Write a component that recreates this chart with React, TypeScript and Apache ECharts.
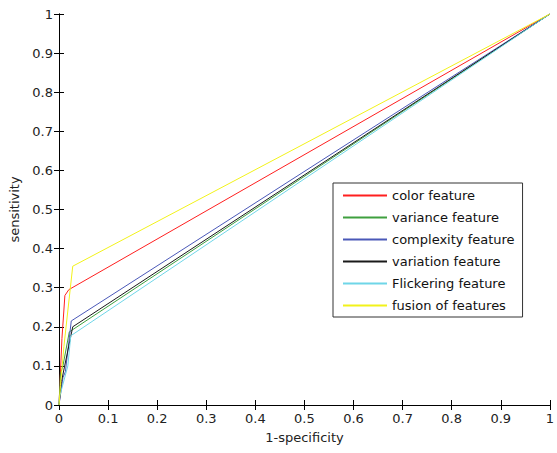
import React, { useEffect, useRef } from "react";
import * as echarts from "echarts";

const seriesNames = [
  "color feature",
  "variance feature",
  "complexity feature",
  "variation feature",
  "Flickering feature",
  "fusion of features",
];
const seriesColors = ["#ff1f1f", "#3fa03f", "#4a58b8", "#1a1a1a", "#6fd6e8", "#f2f21a"];

const colorFeature: number[][] = [[0, 0], [0.006, 0.17], [0.012, 0.28], [0.02, 0.295], [1, 1]];
const varianceFeature: number[][] = [[0, 0], [0.003, 0.08], [0.008, 0.1], [0.021, 0.187], [1, 1]];
const complexityFeature: number[][] = [[0, 0], [0.008, 0.07], [0.013, 0.085], [0.025, 0.215], [1, 1]];
const variationFeature: number[][] = [[0, 0], [0.005, 0.06], [0.028, 0.2], [1, 1]];
const flickeringFeature: number[][] = [[0, 0], [0.001, 0.02], [0.018, 0.1], [0.024, 0.177], [1, 1]];
const fusionFeatures: number[][] = [[0, 0], [0.003, 0.05], [0.01, 0.15], [0.028, 0.355], [1, 1]];

const allData = [colorFeature, varianceFeature, complexityFeature, variationFeature, flickeringFeature, fusionFeatures];

const xTitle = "1-specificity";
const yTitle = "sensitivity";

export default function App() {
  const ref = useRef<HTMLDivElement>(null);
  useEffect(() => {
    if (!ref.current) return;
    const chart = echarts.init(ref.current, undefined, { renderer: "svg" });
    const font = "DejaVu Sans, Arial, sans-serif";
    const axisCommon = {
      type: "value" as const,
      min: 0,
      max: 1,
      interval: 0.1,
      axisLine: { show: true, lineStyle: { color: "#000", width: 1 } },
      axisTick: { show: true, inside: true, length: 5, lineStyle: { color: "#000" } },
      splitLine: { show: false },
    };
    chart.setOption({
      animation: false,
      backgroundColor: "#fff",
      color: seriesColors,
      grid: { left: 57, right: 2, top: 14, bottom: 48, containLabel: false },
      xAxis: [
        {
          ...axisCommon,
          position: "bottom",
          name: xTitle,
          nameLocation: "middle",
          nameGap: 26,
          nameTextStyle: { color: "#222", fontSize: 13, fontFamily: font },
          axisLabel: { color: "#222", fontSize: 13, fontFamily: font, margin: 7 },
        },
        {
          ...axisCommon,
          position: "top",
          axisLabel: { show: false },
        },
      ],
      yAxis: [
        {
          ...axisCommon,
          position: "left",
          name: yTitle,
          nameLocation: "middle",
          nameGap: 38,
          nameRotate: 90,
          nameTextStyle: { color: "#222", fontSize: 13, fontFamily: font },
          axisLabel: { color: "#222", fontSize: 13, fontFamily: font, margin: 6 },
        },
        {
          ...axisCommon,
          position: "right",
          axisLabel: { show: false },
        },
      ],
      legend: {
        orient: "vertical",
        left: 333,
        top: 183,
        backgroundColor: "#fff",
        borderColor: "#333",
        borderWidth: 1,
        borderRadius: 0,
        padding: [5, 8, 4, 10],
        itemGap: 7,
        itemWidth: 44,
        itemHeight: 2,
        icon: "rect",
        textStyle: { color: "#111", fontSize: 13, fontFamily: font, lineHeight: 15 },
        data: seriesNames.map((n, i) => ({
          name: n,
          icon: "rect",
          itemStyle: { color: seriesColors[i], borderWidth: 0, opacity: 1 },
        })),
      },
      series: seriesNames.map((name, i) => ({
        name,
        type: "line",
        xAxisIndex: 0,
        yAxisIndex: 0,
        data: allData[i],
        symbol: "none",
        showSymbol: false,
        color: seriesColors[i],
        lineStyle: { color: seriesColors[i], width: 1 },
        itemStyle: { color: seriesColors[i] },
      })),
    });
    return () => chart.dispose();
  }, []);
  return (
    <div
      ref={ref}
      style={{ position: "fixed", left: 0, top: 0, width: 557, height: 453 }}
    />
  );
}
